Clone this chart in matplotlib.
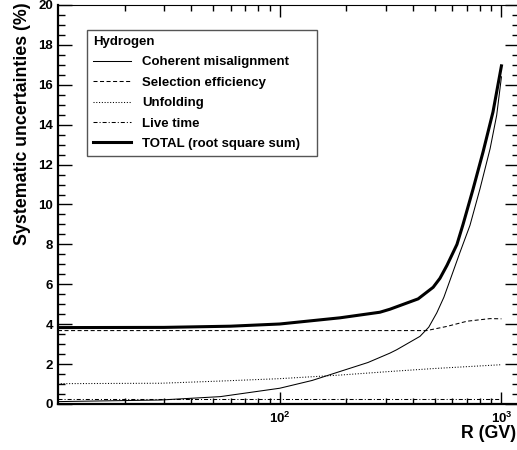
import matplotlib
matplotlib.use("Agg")
import matplotlib.pyplot as plt
from matplotlib.ticker import FixedLocator, NullFormatter, FixedFormatter

plt.rcParams['font.family'] = ['Liberation Sans', 'DejaVu Sans']
plt.rcParams['font.weight'] = 'bold'
plt.rcParams['mathtext.fontset'] = 'custom'
plt.rcParams['mathtext.rm'] = 'Liberation Sans:bold'
plt.rcParams['mathtext.bf'] = 'Liberation Sans:bold'
plt.rcParams['lines.scale_dashes'] = False

# ---- data ----
mis_R = [10, 29, 54, 100, 140, 187, 250, 314, 337, 429, 470, 511, 550, 586, 650, 721, 800, 889, 952, 1000]
mis_v = [0.12, 0.20, 0.37, 0.79, 1.18, 1.63, 2.08, 2.55, 2.72, 3.39, 3.85, 4.57, 5.35, 6.20,
         7.60, 8.95, 10.78, 12.8, 14.48, 16.4]

sel_R = [10, 100, 300, 460, 568, 700, 889, 1000]
sel_v = [3.68, 3.68, 3.68, 3.68, 3.89, 4.15, 4.28, 4.27]

unf_R = [10, 29, 54, 100, 187, 314, 500, 1000]
unf_v = [1.02, 1.04, 1.15, 1.27, 1.45, 1.63, 1.78, 1.97]

live_R = [10, 100, 1000]
live_v = [0.23, 0.23, 0.23]

tot_R = [10, 30, 60, 100, 187, 283, 314, 421, 492, 528, 568, 630, 671, 745, 826, 916, 1000]
tot_v = [3.83, 3.84, 3.90, 4.01, 4.32, 4.60, 4.75, 5.27, 5.85, 6.30, 6.95, 8.00, 9.00,
         10.78, 12.63, 14.64, 16.95]

labels = ["Coherent misalignment", "Selection efficiency", "Unfolding",
          "Live time", "TOTAL (root square sum)"]
legend_title = "Hydrogen"
xtick_vals = [100, 1000]
xtick_labels = [r"$\mathbf{10^{2}}$", r"$\mathbf{10^{3}}$"]

W, H = 517, 450
fig = plt.figure(figsize=(W / 100, H / 100), dpi=100)
ax = fig.add_axes([58 / W, 46 / H, 461 / W, 399 / H])

dashed = (0, (2.9, 1.8))
dotted = (0, (0.75, 1.25))
dashdot = (0, (2.9, 1.45, 0.75, 1.45))

l1, = ax.plot(mis_R, mis_v, color='black', lw=0.75, ls='-')
l2, = ax.plot(sel_R, sel_v, color='black', lw=0.75, ls=dashed)
l3, = ax.plot(unf_R, unf_v, color='black', lw=0.75, ls=dotted)
l4, = ax.plot(live_R, live_v, color='black', lw=0.75, ls=dashdot)
l5, = ax.plot(tot_R, tot_v, color='black', lw=2.2, ls='-')

ax.set_xscale('log')
ax.set_xlim(10, 1200)
ax.set_ylim(0, 20)

ax.xaxis.set_major_locator(FixedLocator(xtick_vals))
ax.xaxis.set_major_formatter(FixedFormatter(xtick_labels))
ax.xaxis.set_minor_locator(FixedLocator([20, 30, 40, 50, 60, 70, 80, 90,
                                          200, 300, 400, 500, 600, 700, 800, 900]))
ax.xaxis.set_minor_formatter(NullFormatter())
ax.yaxis.set_major_locator(FixedLocator(list(range(0, 21, 2))))
ax.yaxis.set_minor_locator(FixedLocator([i * 0.5 for i in range(41)]))

ax.tick_params(axis='both', which='both', direction='in', top=True, right=True,
               width=1.0, color='black')
ax.tick_params(axis='y', which='major', length=10, labelsize=9.5, pad=3.5)
ax.tick_params(axis='y', which='minor', length=5)
ax.tick_params(axis='x', which='major', length=8.5, labelsize=9.5, pad=5)
ax.tick_params(axis='x', which='minor', length=4.3)
for lab in ax.get_yticklabels():
    lab.set_fontweight('bold')

for s in ['left', 'bottom']:
    ax.spines[s].set_linewidth(1.6)
ax.spines['top'].set_linewidth(0.8)
ax.spines['right'].set_linewidth(0.8)

ax.set_ylabel("Systematic uncertainties (%)", fontsize=12.8, fontweight='bold', loc='top')
ax.yaxis.set_label_coords(-0.058, 1.0075)
ax.set_xlabel("R (GV)", fontsize=12.8, fontweight='bold', loc='right')
ax.xaxis.set_label_coords((516 - 58) / 461, -0.052)

x0 = (87 - 58) / 461
y1 = 1 - (30 - 5) / 399
wl = (317 - 87) / 461
hl = (154 - 30) / 399
leg = ax.legend([l1, l2, l3, l4, l5], labels, title=legend_title,
                loc='upper left', bbox_to_anchor=(x0, y1 - hl, wl, hl), mode='expand',
                borderaxespad=0, fancybox=False, edgecolor='#555555', framealpha=1,
                prop={'weight': 'bold', 'size': 9.5}, handlelength=2.9, handletextpad=0.85,
                labelspacing=0.62, borderpad=0.45, alignment='left',
                title_fontproperties={'weight': 'bold', 'size': 9.5})
leg.get_frame().set_linewidth(1.0)

fig.savefig("out.png", dpi=100)
